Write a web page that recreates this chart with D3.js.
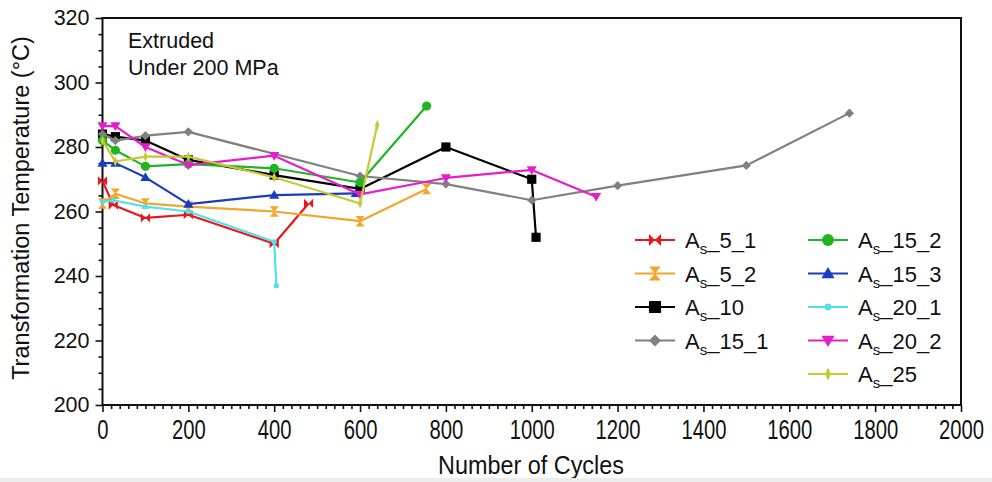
<!DOCTYPE html>
<html>
<head>
<meta charset="utf-8">
<script src="https://cdn.jsdelivr.net/npm/d3@7"></script>
<style>
  html, body { margin: 0; padding: 0; background: #fff; }
  svg { display: block; }
  text { font-family: "Liberation Sans", Arial, sans-serif; fill: #111; }
</style>
</head>
<body>
<svg id="chart" width="992" height="482"></svg>
<script>
// Transformation temperature (As) versus number of thermal cycles, extruded samples under 200 MPa
const xTicks = [0, 200, 400, 600, 800, 1000, 1200, 1400, 1600, 1800, 2000];
const yTicks = [200, 220, 240, 260, 280, 300, 320];

const seriesKeys = ["5_1", "5_2", "10", "15_1", "15_2", "15_3", "20_1", "20_2", "25"];

const cyclesAs5_1 = [0, 25, 100, 200, 400, 480];
const tempAs5_1   = [269.5, 262, 258, 259, 250, 262.5];

const cyclesAs5_2 = [0, 30, 100, 200, 400, 600, 755];
const tempAs5_2   = [262.5, 265.5, 262.5, 261.5, 260, 257, 267];

const cyclesAs10 = [0, 30, 100, 200, 400, 600, 800, 1000, 1010];
const tempAs10   = [284, 283.2, 282, 276, 271.3, 267, 280, 270, 252];

const cyclesAs15_1 = [0, 30, 100, 200, 600, 800, 1000, 1200, 1500, 1740];
const tempAs15_1   = [284, 282, 283.5, 284.7, 271, 268.5, 263.5, 268, 274.3, 290.5];

const cyclesAs15_2 = [0, 30, 100, 200, 400, 600, 755];
const tempAs15_2   = [282, 279, 274, 274.7, 273.4, 269, 292.7];

const cyclesAs15_3 = [0, 30, 100, 200, 400, 590];
const tempAs15_3   = [275, 275, 270.6, 262.3, 265.1, 265.6];

const cyclesAs20_1 = [0, 25, 100, 200, 400, 405];
const tempAs20_1   = [263, 263.5, 261.5, 260, 250.6, 237];

const cyclesAs20_2 = [0, 30, 100, 200, 400, 600, 800, 1000, 1150];
const tempAs20_2   = [286.5, 286.5, 280, 274.4, 277.3, 265.3, 270.4, 272.9, 264.6];

const cyclesAs25 = [0, 30, 100, 200, 400, 600, 640];
const tempAs25   = [282, 275.5, 277, 277, 270.6, 262.5, 286.8];

// Drawing style for each sample
const styles = {
  "5_1":  { color: "#e8161e", marker: "bowtie" },
  "5_2":  { color: "#f2a52a", marker: "hourglass" },
  "10":   { color: "#000000", marker: "square" },
  "15_1": { color: "#808080", marker: "diamond" },
  "15_2": { color: "#22b422", marker: "circle" },
  "15_3": { color: "#1a3cc0", marker: "triangleUp" },
  "20_1": { color: "#4fe3e8", marker: "dot" },
  "20_2": { color: "#e51ec8", marker: "triangleDown" },
  "25":   { color: "#c8c832", marker: "thinDiamond" }
};

const rawCycles = { "5_1": cyclesAs5_1, "5_2": cyclesAs5_2, "10": cyclesAs10, "15_1": cyclesAs15_1,
  "15_2": cyclesAs15_2, "15_3": cyclesAs15_3, "20_1": cyclesAs20_1, "20_2": cyclesAs20_2, "25": cyclesAs25 };
const rawTemps = { "5_1": tempAs5_1, "5_2": tempAs5_2, "10": tempAs10, "15_1": tempAs15_1,
  "15_2": tempAs15_2, "15_3": tempAs15_3, "20_1": tempAs20_1, "20_2": tempAs20_2, "25": tempAs25 };

const series = seriesKeys.map(k => ({
  key: k,
  points: rawCycles[k].map((c, i) => ({ x: c, y: rawTemps[k][i] })),
  ...styles[k]
}));

const svg = d3.select("#chart");
const plot = { left: 102.5, right: 961, top: 18, bottom: 405 };

const x = d3.scaleLinear().domain([0, 2000]).range([plot.left, plot.right]);
const y = d3.scaleLinear().domain([200, 320]).range([plot.bottom, plot.top]);

// Marker shapes, centred on the origin; k scales the size
function markerPath(type, k) {
  const s = 4.6 * k;
  switch (type) {
    case "bowtie":
      return `M${-s},${-s}L0,0L${-s},${s}Z M${s},${-s}L0,0L${s},${s}Z`;
    case "hourglass":
      return `M${-s},${-s * 1.15}L${s},${-s * 1.15}L0,0Z M${-s},${s * 1.15}L${s},${s * 1.15}L0,0Z`;
    case "square":
      return `M${-s},${-s}H${s}V${s}H${-s}Z`;
    case "diamond":
      return `M0,${-s}L${s},0L0,${s}L${-s},0Z`;
    case "circle":
      return d3.symbol(d3.symbolCircle, Math.PI * s * s)();
    case "dot":
      return d3.symbol(d3.symbolCircle, Math.PI * (2.6 * k) * (2.6 * k))();
    case "triangleUp":
      return `M0,${-s * 1.1}L${s * 1.1},${s * 0.8}L${-s * 1.1},${s * 0.8}Z`;
    case "triangleDown":
      return `M0,${s * 1.1}L${s * 1.1},${-s * 0.8}L${-s * 1.1},${-s * 0.8}Z`;
    case "thinDiamond":
      return `M0,${-s * 1.1}L${s * 0.5},0L0,${s * 1.1}L${-s * 0.5},0Z`;
  }
}

// Axes
const yAxis = d3.axisLeft(y).tickValues(yTicks).tickSize(7).tickPadding(6).tickFormat(d3.format("d"));
const yMinor = d3.axisLeft(y).tickValues(d3.range(200, 321, 5).filter(v => v % 20 !== 0)).tickSize(4).tickFormat("");
const xAxis = d3.axisBottom(x).tickValues(xTicks).tickSize(7).tickPadding(8).tickFormat(d3.format("d"));
const xMinor = d3.axisBottom(x).tickValues(d3.range(0, 2001, 20).filter(v => v % 200 !== 0)).tickSize(4).tickFormat("");

function styleAxis(g) {
  g.select(".domain").remove();
  g.selectAll(".tick line").attr("stroke", "#111").attr("stroke-width", 1.6);
}

svg.append("g").attr("transform", `translate(${plot.left},0)`).call(yMinor).call(styleAxis);
const gy = svg.append("g").attr("transform", `translate(${plot.left},0)`).call(yAxis).call(styleAxis);
gy.selectAll(".tick text").attr("font-size", 21.5);

svg.append("g").attr("transform", `translate(0,${plot.bottom})`).call(xMinor).call(styleAxis);
const gx = svg.append("g").attr("transform", `translate(0,${plot.bottom})`).call(xAxis).call(styleAxis);
gx.selectAll(".tick text")
  .attr("font-size", 27)
  .attr("dy", "0.71em")
  .attr("transform", function () {
    const t = d3.select(this);
    return `translate(0,0) scale(0.75,1)`;
  })
  .attr("x", 0);
// keep condensed labels centred on their ticks
gx.selectAll(".tick text").attr("text-anchor", "middle");

// Plot frame
svg.append("rect")
  .attr("x", plot.left).attr("y", plot.top)
  .attr("width", plot.right - plot.left).attr("height", plot.bottom - plot.top)
  .attr("fill", "none").attr("stroke", "#111").attr("stroke-width", 2);

// Axis titles
svg.append("text")
  .attr("transform", `translate(531,474) scale(0.9,1)`)
  .attr("text-anchor", "middle")
  .attr("font-size", 26)
  .text("Number of Cycles");

svg.append("text")
  .attr("transform", `translate(29,208) rotate(-90)`)
  .attr("text-anchor", "middle")
  .attr("font-size", 23.5)
  .text("Transformation Temperature (°C)");

// Annotation
svg.append("text").attr("x", 128).attr("y", 48).attr("font-size", 21.5).text("Extruded");
svg.append("text").attr("x", 128).attr("y", 75).attr("font-size", 21.5).text("Under 200 MPa");

// Series lines and markers
const line = d3.line().x(d => x(d.x)).y(d => y(d.y));
const gSeries = svg.append("g");
series.forEach(s => {
  const g = gSeries.append("g");
  g.append("path")
    .attr("d", line(s.points))
    .attr("fill", "none")
    .attr("stroke", s.color)
    .attr("stroke-width", 2.2)
    .attr("stroke-linejoin", "round");
  g.selectAll("path.m").data(s.points).join("path")
    .attr("class", "m")
    .attr("transform", d => `translate(${x(d.x)},${y(d.y)})`)
    .attr("d", markerPath(s.marker, 1))
    .attr("fill", s.color);
});

// Legend in two columns
const legendCols = [
  { lineX: 635, textX: 685, keys: ["5_1", "5_2", "10", "15_1"] },
  { lineX: 808, textX: 858, keys: ["15_2", "15_3", "20_1", "20_2", "25"] }
];
const legendTop = 240, legendStep = 33.5;
legendCols.forEach(col => {
  col.keys.forEach((k, i) => {
    const st = styles[k];
    const cy = legendTop + i * legendStep;
    const g = svg.append("g");
    g.append("line")
      .attr("x1", col.lineX).attr("x2", col.lineX + 40)
      .attr("y1", cy).attr("y2", cy)
      .attr("stroke", st.color).attr("stroke-width", 2.2);
    g.append("path")
      .attr("transform", `translate(${col.lineX + 20},${cy})`)
      .attr("d", markerPath(st.marker, 1.3))
      .attr("fill", st.color);
    const t = g.append("text").attr("x", col.textX).attr("y", cy + 8).attr("font-size", 22);
    t.append("tspan").text("A");
    t.append("tspan").attr("font-size", 15).attr("dy", 6).text("s");
    t.append("tspan").attr("dy", -6).text("_" + k);
  });
});

// thin grey strip along the bottom edge
svg.append("rect").attr("x", 0).attr("y", 478).attr("width", 992).attr("height", 4).attr("fill", "#ececec");
</script>
</body>
</html>
